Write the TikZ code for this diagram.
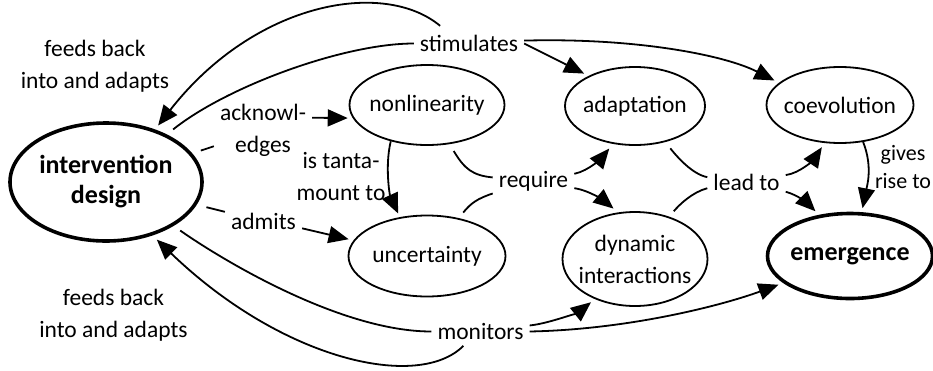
\documentclass[tikz,border=0pt]{standalone}
\usepackage{fontspec}
\setmainfont{Carlito}
\usetikzlibrary{arrows.meta,shapes.geometric}

\tikzset{
  concept/.style={ellipse, draw, line width=1.8pt, inner sep=0pt, inner xsep=-12pt,
    align=center, font=\fontsize{23.5}{32}\selectfont},
  keyconcept/.style={concept, line width=3.6pt, font=\fontsize{26}{30}\selectfont\bfseries},
  lbl/.style={inner sep=6pt, align=center, font=\fontsize{23.5}{32}\selectfont},
  link/.style={line width=1.8pt},
  arr/.style={link, shorten >=5pt, -{Triangle[length=20pt,width=17pt]}},
}

\begin{document}
\begin{tikzpicture}[x=1pt,y=-1pt]
\useasboundingbox (0,0) rectangle (933,370);

% concepts
\node[keyconcept, minimum width=192pt, minimum height=118pt] (id) at (106,182) {intervention\\design};
\node[concept, minimum width=155pt, minimum height=80pt] (nl) at (427,105) {nonlinearity};
\node[concept, minimum width=140pt, minimum height=78pt] (ad) at (635,106) {adaptation};
\node[concept, minimum width=147pt, minimum height=76pt] (co) at (840,105) {coevolution};
\node[concept, minimum width=157pt, minimum height=81pt] (un) at (427,256) {uncertainty};
\node[concept, minimum width=145pt, minimum height=94pt] (dy) at (635,259) {dynamic\\interactions};
\node[keyconcept, minimum width=165pt, minimum height=85pt] (em) at (850,256) {emergence};

% link phrases
\node[lbl] (fbt) at (95,66.5) {feeds back\\into and adapts};
\node[lbl] (fbb) at (113.5,315) {feeds back\\into and adapts};
\node[lbl] (st) at (469,43.5) {stimulates};
\node[lbl] (ack) at (263,130) {acknowl-\\edges};
\node[lbl] (tan) at (341,176.5) {is tanta-\\mount to};
\node[lbl] (req) at (533.5,181) {require};
\node[lbl] (adm) at (263.5,221.5) {admits};
\node[lbl] (lead) at (746.5,182) {lead to};
\node[lbl, font=\fontsize{22}{28}\selectfont] (gr) at (903,167.5) {gives\\rise to};
\node[lbl] (mon) at (480.5,331.5) {monitors};

% intervention design -> stimulates -> adaptation, coevolution; feedback
\draw[link, shorten <=8pt] (id.38) .. controls +(60,-48) and +(-70,0) .. (st.west);
\draw[arr, shorten <=5pt] (st.150) .. controls +(-60,-50) and +(100,-128) .. (id.47);
\draw[arr] (st.east) -- (ad.147);
\draw[arr] (st.3) .. controls +(110,-3) and +(-55,-28) .. (co.160);

% acknowledges / admits
\draw[link, shorten <=9pt] (id) -- (ack);
\draw[arr] (ack.14) -- (nl.190);
\draw[link, shorten <=10pt] (id) -- (adm);
\draw[arr] (adm.350) -- (un.168);

% is tantamount to
\draw[arr, shorten >=4pt] (nl.225) .. controls +(-6,25) and +(-10,-22) .. (un.125);

% require
\draw[link, shorten <=8pt] (nl.300) .. controls +(15,25) and +(-20,-2) .. (req.175);
\draw[link, shorten <=7pt] (un.50) .. controls +(12,-15) and +(-15,5) .. (req.197);
\draw[arr, shorten >=6pt] (req.10) .. controls +(15,-3) and +(-10,12) .. (ad.240);
\draw[arr, shorten >=6pt] (req.350) .. controls +(15,2) and +(-12,-10) .. (dy.110);

% lead to
\draw[link, shorten <=8pt] (ad.310) .. controls +(12,15) and +(-15,-3) .. (lead.173);
\draw[link, shorten <=7pt] (dy.51) .. controls +(10,-12) and +(-15,4) .. (lead.189);
\draw[arr] (lead.10) .. controls +(15,-2) and +(-10,15) .. (co.248);
\draw[arr] (lead.346) .. controls +(12,3) and +(-10,-10) .. (em.127);

% gives rise to
\draw[arr, shorten >=4pt] (co.302) .. controls +(10,25) and +(5,-25) .. (em.75);

% monitors
\draw[link, shorten <=8pt] (id.327) .. controls +(50,35) and +(-90,0) .. (mon.west);
\draw[arr, shorten >=6pt] (mon.220) .. controls +(-45,45) and +(130,125) .. (id.311);
\draw[arr] (mon.7) .. controls +(20,-2) and +(-15,12) .. (dy.225);
\draw[arr] (mon.east) .. controls +(100,-2) and +(-60,22) .. (em.202);
\end{tikzpicture}
\end{document}
